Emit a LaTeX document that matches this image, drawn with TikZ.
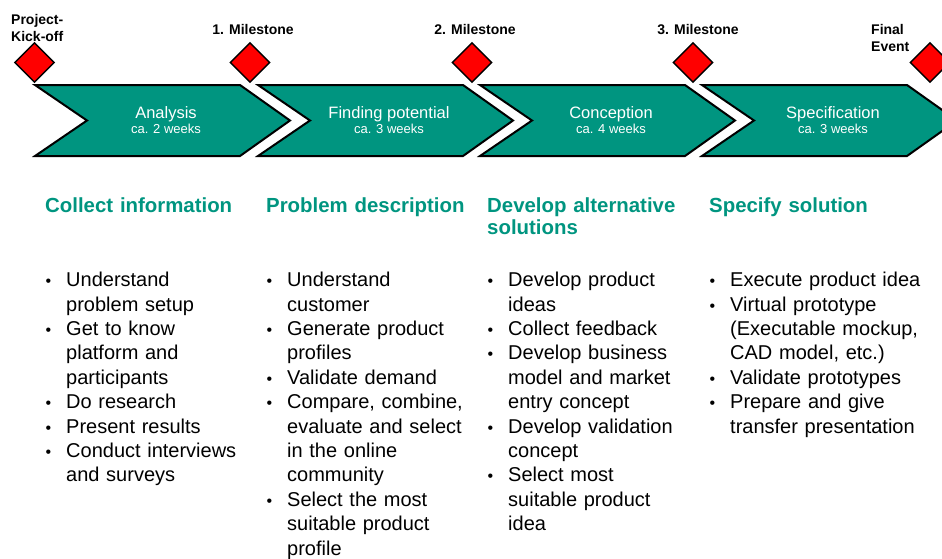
\documentclass[tikz,border=0pt]{standalone}
\usepackage{fontspec}
\setmainfont{Liberation Sans}
\usetikzlibrary{shapes.geometric}
\definecolor{phaseteal}{RGB}{0,149,128}
\definecolor{msred}{RGB}{255,0,0}
% one bullet item with hanging lines
\newcommand{\bul}{\par\noindent\hangindent=21pt\hangafter=1%
  \vrule height16pt width0pt depth0pt\hbox to 21pt{\hskip0.5pt{\fontsize{16}{16}\selectfont\textbullet}\hfil}}
\newcommand{\headstrut}{\vrule height15pt width0pt depth0pt}

\begin{document}
\begin{tikzpicture}[x=1pt,y=-1pt,
    milestone/.style={diamond,draw=black,line width=1.4pt,fill=msred,minimum size=40pt,inner sep=0pt},
    mslabel/.style={font=\bfseries\fontsize{14}{17}\selectfont,inner sep=0pt},
    phase/.style={fill=phaseteal,draw=black,line width=2pt,line join=miter},
    phasename/.style={text=white,font=\fontsize{16.5}{18}\selectfont,anchor=base,inner sep=0pt},
    phasetime/.style={text=white,font=\fontsize{13}{15}\selectfont,anchor=base,inner sep=0pt},
    heading/.style={text=phaseteal,font=\bfseries\fontsize{20.4}{22.5}\selectfont,anchor=north west,inner sep=0pt,text width=215pt,align=left},
    tasks/.style={font=\fontsize{20}{24.4}\selectfont,anchor=north west,inner sep=0pt,text width=225pt,align=left}]

  \useasboundingbox (0,0) rectangle (942,558);
  \clip (0,0) rectangle (942,558);

  % Phase chevrons
  \foreach \x/\name/\time [count=\i] in {35/Analysis/2, 258/Finding potential/3, 480/Conception/4, 702/Specification/3} {
      \draw[phase] (\x,85) -- ++(205,0) -- ++(50,35.5) -- ++(-50,35.5)
                   -- ++(-205,0) -- ++(52,-35.5) -- cycle;
      \node[phasename] (ph\i) at (\x+131,118) {\name};
      \node[phasetime] (t\i) at (\x+131,133) {ca. \time\ weeks};
  }

  % Milestones
  \foreach \x [count=\i] in {34.5,250,472,693,930} {
      \node[milestone] (m\i) at (\x,62.5) {};
  }
  \node[mslabel,anchor=north west,align=left] (kick) at (11,13) {\vrule height11pt width0pt Project-\\Kick-off};
  \node[mslabel,anchor=base] (ms1) at (253,34) {1. Milestone};
  \node[mslabel,anchor=base] (ms2) at (475,34) {2. Milestone};
  \node[mslabel,anchor=base] (ms3) at (698,34) {3. Milestone};
  \node[mslabel,anchor=north west,align=left] (final) at (871,23) {\vrule height11pt width0pt Final\\Event};

  % Column headings
  \node[heading] (h1) at (45,197) {\headstrut Collect information};
  \node[heading] (h2) at (266,197) {\headstrut Problem description};
  \node[heading] (h3) at (487,197) {\headstrut Develop alternative\\solutions};
  \node[heading] (h4) at (709,197) {\headstrut Specify solution};

  % Task lists
  \node[tasks] (c1) at (45,262) {%
    \bul Understand\newline problem setup
    \bul Get to know\newline platform and\newline participants
    \bul Do research
    \bul Present results
    \bul Conduct interviews\newline and surveys\par};
  \node[tasks] (c2) at (266,262) {%
    \bul Understand\newline customer
    \bul Generate product\newline profiles
    \bul Validate demand
    \bul Compare, combine,\newline evaluate and select\newline in the online\newline community
    \bul Select the most\newline suitable product\newline profile\par};
  \node[tasks] (c3) at (487,262) {%
    \bul Develop product\newline ideas
    \bul Collect feedback
    \bul Develop business\newline model and market\newline entry concept
    \bul Develop validation\newline concept
    \bul Select most\newline suitable product\newline idea\par};
  \node[tasks] (c4) at (709,262) {%
    \bul Execute product idea
    \bul Virtual prototype\newline (Executable mockup,\newline CAD model, etc.)
    \bul Validate prototypes
    \bul Prepare and give\newline transfer presentation\par};
\end{tikzpicture}
\end{document}
